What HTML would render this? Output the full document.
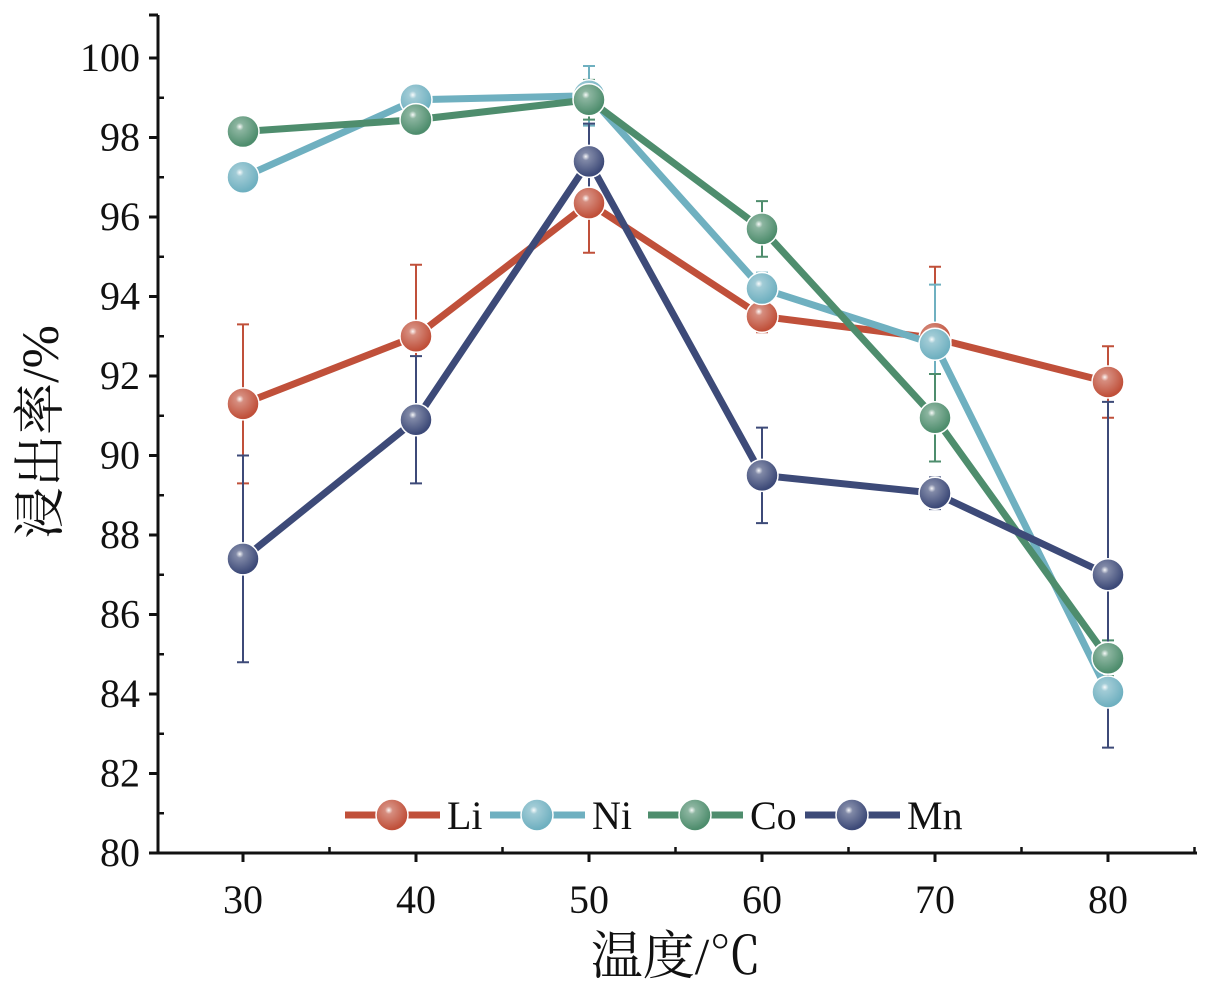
<!DOCTYPE html>
<html><head><meta charset="utf-8"><style>
body{margin:0;background:#fff}
svg text{font-family:"Liberation Serif","Noto Serif CJK SC",serif;fill:#111}
</style></head><body>
<svg id="chart" width="1212" height="989" xmlns="http://www.w3.org/2000/svg">
<defs>
<radialGradient id="hl" cx="0.4" cy="0.35" r="0.6"><stop offset="0" stop-color="#fff" stop-opacity="0.95"/><stop offset="0.2" stop-color="#fff" stop-opacity="0.35"/><stop offset="1" stop-color="#fff" stop-opacity="0"/></radialGradient>
</defs>
<g id="axes"></g><g id="plot"></g><g id="legend"></g>
</svg>
<script>
const temps=[30,40,50,60,70,80];
const yTicks=[80,82,84,86,88,90,92,94,96,98,100];
const seriesNames=["Li","Ni","Co","Mn"];
const liVals=[91.3,93.0,96.35,93.5,92.95,91.85];
const liErr=[2.0,1.8,1.25,0.4,1.8,0.9];
const niVals=[97.0,98.95,99.05,94.2,92.8,84.05];
const niErr=[0.2,0.3,0.75,0.4,1.5,0.2];
const coVals=[98.15,98.45,98.95,95.7,90.95,84.9];
const coErr=[0.3,0.3,0.5,0.7,1.1,0.45];
const mnVals=[87.4,90.9,97.4,89.5,89.05,87.0];
const mnErr=[2.6,1.6,0.95,1.2,0.4,4.35];
const colors=["#c0503a","#6fb0c0","#4e8d6d","#3d4a78"];
const NS="http://www.w3.org/2000/svg";
const X=v=>243+(v-30)*17.3;
const Y=v=>853-(v-80)*39.75;
function mk(tag,at,par){const e=document.createElementNS(NS,tag);for(const k in at)e.setAttribute(k,at[k]);par.appendChild(e);return e;}
const ax=document.getElementById('axes'),pl=document.getElementById('plot'),lg=document.getElementById('legend');
let e;
e=mk('path',{d:'M158,15 V853 H1197',fill:'none',stroke:'#111','stroke-width':3},ax);

yTicks.forEach((t,i)=>{
 e=mk('line',{x1:149,x2:158,y1:Y(t),y2:Y(t),stroke:'#111','stroke-width':3},ax);
 
 if(i<yTicks.length-1){e=mk('line',{x1:158,x2:164,y1:Y(t+1),y2:Y(t+1),stroke:'#111','stroke-width':2.5},ax);
 }
 e=mk('text',{x:140,y:Y(t)+13,'text-anchor':'end','font-size':40},ax);e.textContent=t;
 
});
e=mk('line',{x1:149,x2:158,y1:15,y2:15,stroke:'#111','stroke-width':3},ax);

temps.forEach(t=>{
 e=mk('line',{x1:X(t),x2:X(t),y1:853,y2:862,stroke:'#111','stroke-width':3},ax);
 
 e=mk('line',{x1:X(t+5),x2:X(t+5),y1:847,y2:853,stroke:'#111','stroke-width':2.5},ax);
 
 e=mk('text',{x:X(t),y:913,'text-anchor':'middle','font-size':40},ax);e.textContent=t;
 
});
e=mk('text',{x:0,y:0,'text-anchor':'middle','font-size':52,transform:'translate(58,432) rotate(-90)'},ax);e.textContent='浸出率/%';

e=mk('text',{x:676,y:974,'text-anchor':'middle','font-size':52},ax);e.textContent='温度/℃';

const vals=[liVals,niVals,coVals,mnVals],errs=[liErr,niErr,coErr,mnErr];
function marker(cx,cy,c,par){const g=mk('g',{},par);mk('circle',{cx,cy,r:16,fill:c,stroke:'#fff','stroke-width':1.5},g);mk('circle',{cx,cy,r:16,fill:'url(#hl)'},g);return g;}
vals.forEach((v,s)=>{
 const c=colors[s];
 v.forEach((d,i)=>{const x=X(temps[i]);
  e=mk('path',{d:`M${x},${Y(d-errs[s][i])}V${Y(d+errs[s][i])}M${x-6},${Y(d-errs[s][i])}h12M${x-6},${Y(d+errs[s][i])}h12`,stroke:c,'stroke-width':2,fill:'none'},pl);
  });
});
vals.forEach((v,s)=>{
 e=mk('polyline',{points:v.map((d,i)=>X(temps[i])+','+Y(d)).join(' '),fill:'none',stroke:colors[s],'stroke-width':7,'stroke-linejoin':'round'},pl);
 
 v.forEach((d,i)=>{e=marker(X(temps[i]),Y(d),colors[s],pl);
  });
});
const lx=[345,490,648,805];
seriesNames.forEach((n,s)=>{
 const g=mk('g',{},lg);
 
 mk('line',{x1:lx[s],x2:lx[s]+95,y1:815,y2:815,stroke:colors[s],'stroke-width':7},g);
 marker(lx[s]+47,815,colors[s],g);
 const t=mk('text',{x:lx[s]+102,y:829,'font-size':40},g);t.textContent=n;
});
</script>
</body></html>
